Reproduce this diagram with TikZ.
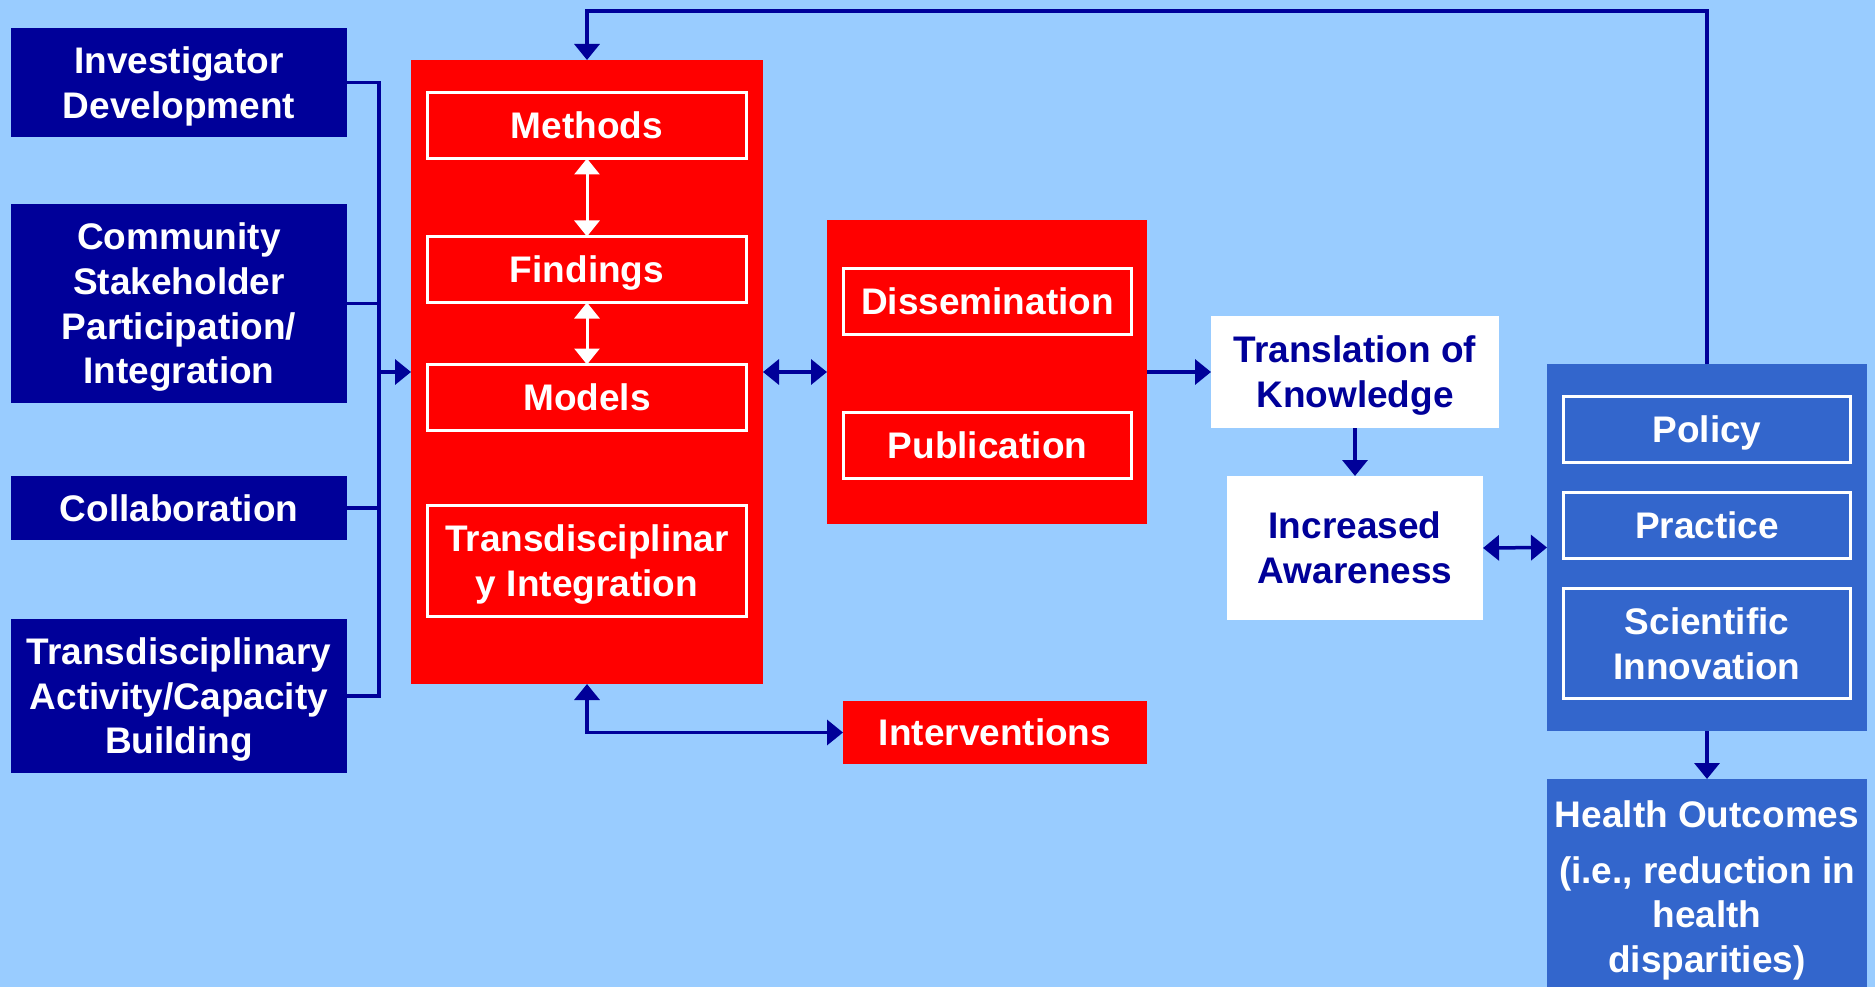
\documentclass[tikz,border=0pt]{standalone}
\usepackage{fontspec}
\setmainfont{Liberation Sans}
\usetikzlibrary{arrows.meta}
\definecolor{sky}{HTML}{99CCFF}
\definecolor{navy}{HTML}{000099}
\definecolor{royal}{HTML}{3366CC}
\definecolor{brightred}{HTML}{FF0000}

\begin{document}
\begin{tikzpicture}[x=1pt,y=-1pt,
  >={Triangle[length=16pt,width=25pt]},
  every node/.style={font=\bfseries\fontsize{37}{44.6}\selectfont, align=center,
                     inner sep=0pt, outer sep=0pt,
                     text height=26.5pt, text depth=0pt},
  two/.style={text height=71.1pt},
  three/.style={text height=115.7pt},
  four/.style={text height=160.3pt},
  navybox/.style={fill=navy, text=white, minimum width=336pt, minimum height=#1},
  redpanel/.style={fill=brightred},
  redinner/.style={draw=white, line width=3pt, fill=brightred, text=white,
                   minimum width=#1, minimum height=66pt},
  whitebox/.style={fill=white, text=navy},
  royalbox/.style={fill=royal, text=white, minimum width=320pt},
  royalinner/.style={draw=white, line width=3pt, fill=royal, text=white,
                     minimum width=287pt, minimum height=#1},
  link/.style={draw=navy, line width=3.5pt},
  inlink/.style={draw=white, line width=3pt},
]
% canvas
\useasboundingbox (0,0) rectangle (1875,987);
\fill[sky] (0,0) rectangle (1875,987);

% inputs on the left
\node[navybox=109pt, two]   (inv)  at (179,82.5) {Investigator\\Development};
\node[navybox=199pt, four]  (com)  at (179,303.5) {Community\\Stakeholder\\Participation/\\Integration};
\node[navybox=64pt]         (col)  at (179,508) {Collaboration};
\node[navybox=154pt, three] (tdab) at (179,696) {Transdisciplinary\\Activity/Capacity\\Building};

% research core
\node[redpanel, minimum width=352pt, minimum height=624pt] (core) at (587,372) {};
\node[redinner=319pt] (meth) at (587,125.5) {Methods};
\node[redinner=319pt] (find) at (587,269.5) {Findings};
\node[redinner=319pt] (mod)  at (587,397.5) {Models};
\node[redinner=319pt, minimum height=111pt, two] (tint) at (587,561) {Transdisciplinar\\y Integration};

% dissemination block
\node[redpanel, minimum width=320pt, minimum height=304pt] (dis) at (987,372) {};
\node[redinner=288pt] (diss) at (987.5,301.5) {Dissemination};
\node[redinner=288pt] (pub)  at (987.5,445.5) {Publication};

\node[fill=brightred, text=white, minimum width=304pt, minimum height=63pt] (intv) at (995,732.5) {Interventions};

% translation
\node[whitebox, two, minimum width=288pt, minimum height=112pt] (trans) at (1355,372) {Translation of\\Knowledge};
\node[whitebox, two, minimum width=256pt, minimum height=144pt] (inc) at (1355,548) {Increased\\Awareness};

% impact
\node[royalbox, minimum height=367pt] (imp) at (1707,547.5) {};
\node[royalinner=66pt]        (pol)  at (1707,429.5) {Policy};
\node[royalinner=66pt]        (prac) at (1707,525) {Practice};
\node[royalinner=110pt, two]  (sci)  at (1707,643.5) {Scientific\\Innovation};
\node[royalbox, minimum height=208pt, text height=179pt] (ho) at (1707,883)
  {Health Outcomes\\[11.4pt](i.e., reduction in\\health\\disparities)};

% input bus
\coordinate (busT) at (379,82.5);
\coordinate (busB) at (379,696);
\draw[link] (inv.east) -- (busT) -- (busB) -- (tdab.east);
\draw[link] (com.east) -- (com.east -| busT);
\draw[link] (col.east) -- (col.east -| busT);
\draw[link, ->] (busT |- core.west) -- (core.west);

% links inside the core
\draw[inlink, <->] (meth.south) -- (find.north);
\draw[inlink, <->] (find.south) -- (mod.north);

% flow to the right
\draw[link, <->] (core.east) -- (dis.west);
\draw[link, ->] (dis.east) -- (trans.west);
\draw[link, ->] (trans.south) -- (inc.north);
\draw[link, <->] (inc.east) -- (imp.west);
\draw[link, ->] (imp.south) -- (ho.north);
\draw[link, <->] (intv.west) -| (core.south);

% feedback to the core
\coordinate (fb) at (1707,11);
\draw[link, ->] (imp.north) -- (fb) -| (core.north);
\end{tikzpicture}
\end{document}
